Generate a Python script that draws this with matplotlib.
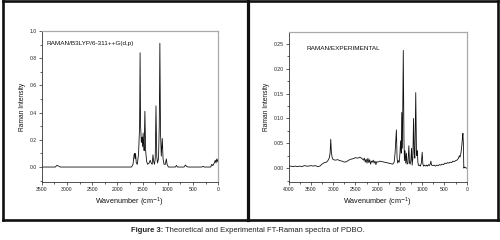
import matplotlib
matplotlib.use("Agg")
import matplotlib.pyplot as plt
from matplotlib.lines import Line2D
from matplotlib.ticker import MultipleLocator

plt.rcParams['font.family'] = ['Liberation Sans', 'DejaVu Sans']

# Theoretical spectrum vertices (wavenumber cm-1, Raman intensity)
theo_wn = [3500, 3230, 3200, 3170, 3130, 1720, 1690, 1670, 1660, 1650, 1640, 1625, 1605,
           1580, 1560, 1550, 1540, 1525, 1510, 1500, 1490, 1480, 1470, 1455, 1440, 1420,
           1400, 1370, 1350, 1330, 1310, 1295, 1280, 1265, 1250, 1235, 1220, 1205, 1185,
           1170, 1158, 1145, 1130, 1110, 1095, 1075, 1050, 1030, 1015, 990, 850, 830, 810,
           680, 650, 630, 600, 330, 300, 280, 150, 130, 110, 80, 60, 45, 30, 15, 0]
theo_int = [0.0, 0.0, 0.012, 0.008, 0.0, 0.0, 0.02, 0.09, 0.10, 0.06, 0.10, 0.03, 0.02,
            0.10, 0.30, 0.84, 0.30, 0.18, 0.22, 0.15, 0.25, 0.18, 0.12, 0.41, 0.12, 0.04,
            0.02, 0.03, 0.05, 0.03, 0.02, 0.09, 0.04, 0.02, 0.06, 0.45, 0.08, 0.03, 0.06,
            0.30, 0.91, 0.25, 0.08, 0.21, 0.06, 0.02, 0.02, 0.06, 0.02, 0.0, 0.0, 0.012, 0.0,
            0.0, 0.015, 0.005, 0.0, 0.0, 0.005, 0.0, 0.0, 0.02, 0.01, 0.03, 0.05, 0.03, 0.06, 0.04, 0.06]

# Experimental spectrum vertices
exp_wn = [4000, 3950, 3900, 3850, 3800, 3750, 3700, 3650, 3600, 3550, 3500, 3450, 3400, 3350,
          3300, 3250, 3200, 3150, 3120, 3090, 3070, 3055, 3040, 3020, 3000, 2950, 2900, 2850,
          2800, 2750, 2700, 2650, 2600, 2550, 2500, 2450, 2400, 2350, 2320, 2300, 2280, 2260,
          2240, 2220, 2200, 2180, 2160, 2140, 2120, 2100, 2080, 2060, 2040, 2020, 2000, 1950,
          1900, 1850, 1800, 1750, 1700, 1660, 1630, 1610, 1580, 1565, 1550, 1535, 1515, 1500,
          1485, 1470, 1460, 1445, 1425, 1410, 1400, 1385, 1370, 1355, 1340, 1320, 1300, 1285,
          1270, 1255, 1240, 1225, 1210, 1195, 1180, 1165, 1145, 1130, 1120, 1110, 1095, 1080,
          1060, 1040, 1020, 1000, 985, 970, 950, 920, 900, 880, 860, 840, 820, 805, 790, 760,
          730, 700, 670, 640, 610, 580, 550, 520, 490, 460, 430, 400, 370, 340, 310, 280, 250,
          220, 190, 165, 150, 130, 110, 95, 85, 75, 65, 50, 30, 10, 0]
exp_int = [0.003, 0.004, 0.003, 0.004, 0.003, 0.004, 0.003, 0.005, 0.004, 0.004, 0.005, 0.004, 0.005, 0.003,
           0.004, 0.008, 0.011, 0.012, 0.015, 0.020, 0.030, 0.058, 0.030, 0.020, 0.017, 0.016, 0.017, 0.015,
           0.014, 0.012, 0.013, 0.016, 0.018, 0.019, 0.021, 0.020, 0.022, 0.019, 0.016, 0.020, 0.012, 0.018,
           0.010, 0.020, 0.011, 0.017, 0.008, 0.014, 0.012, 0.016, 0.010, 0.014, 0.007, 0.013, 0.012, 0.014,
           0.013, 0.012, 0.011, 0.010, 0.009, 0.008, 0.012, 0.030, 0.077, 0.020, 0.010, 0.015, 0.012, 0.030,
           0.055, 0.030, 0.112, 0.040, 0.237, 0.060, 0.015, 0.035, 0.010, 0.030, 0.008, 0.010, 0.045, 0.010,
           0.008, 0.015, 0.040, 0.006, 0.020, 0.100, 0.030, 0.020, 0.152, 0.040, 0.025, 0.035, 0.010, 0.005,
           0.006, 0.004, 0.010, 0.032, 0.008, 0.004, 0.006, 0.004, 0.006, 0.004, 0.007, 0.005, 0.008, 0.014, 0.006, 0.005,
           0.006, 0.004, 0.006, 0.005, 0.007, 0.006, 0.008, 0.007, 0.010, 0.009, 0.011, 0.010, 0.012, 0.011, 0.014, 0.013, 0.015,
           0.016, 0.019, 0.025, 0.022, 0.030, 0.045, 0.062, 0.070, 0.050, 0.000, 0.002, 0.001, 0.000, 0.000]

theo_label = "RAMAN/B3LYP/6-311++G(d,p)"
exp_label = "RAMAN/EXPERIMENTAL"
xlabel = "Wavenumber (cm$^{-1}$)"
ylabel = "Raman Intensity"
caption_bold = "Figure 3:"
caption_rest = "Theoretical and Experimental FT-Raman spectra of PDBO."

W, H = 500, 240
fig = plt.figure(figsize=(5, 2.4), dpi=100)

def fx(px):
    return px / W

def fy(py):
    return 1 - py / H

# outer frame and divider
frame_kw = dict(color='#111111', lw=1.9, solid_capstyle='projecting')
fig.add_artist(Line2D([fx(2.5), fx(497.5)], [fy(1), fy(1)], transform=fig.transFigure, **frame_kw))
fig.add_artist(Line2D([fx(2.5), fx(497.5)], [fy(219.5), fy(219.5)], transform=fig.transFigure, **frame_kw))
fig.add_artist(Line2D([fx(2.5), fx(2.5)], [fy(1), fy(219.5)], transform=fig.transFigure, **frame_kw))
fig.add_artist(Line2D([fx(497.5), fx(497.5)], [fy(1), fy(219.5)], transform=fig.transFigure, **frame_kw))
fig.add_artist(Line2D([fx(247.5), fx(247.5)], [fy(1), fy(219.5)], transform=fig.transFigure, color='#111111', lw=2.3))

def style(ax):
    for s in ['left', 'bottom']:
        ax.spines[s].set_color('#333333')
        ax.spines[s].set_linewidth(0.6)
    for s in ['top', 'right']:
        ax.spines[s].set_color('#aaaaaa')
        ax.spines[s].set_linewidth(0.9)
    ax.tick_params(which='both', direction='out', width=0.5, colors='#222222',
                   labelsize=3.7, pad=1.5, top=False, right=False)
    ax.tick_params(which='major', length=2.0)
    ax.tick_params(which='minor', length=1.2)

ax1 = fig.add_axes([fx(41.7), fy(182), fx(218.3) - fx(41.7), fy(31) - fy(182)])
ax1.plot(theo_wn, theo_int, color='#111111', lw=0.6)
ax1.set_xlim(3500, 0)
ax1.set_ylim(-0.11, 1.0)
ax1.xaxis.set_major_locator(MultipleLocator(500))
ax1.xaxis.set_minor_locator(MultipleLocator(250))
ax1.yaxis.set_major_locator(MultipleLocator(0.2))
ax1.yaxis.set_minor_locator(MultipleLocator(0.1))
ax1.set_yticks([0.0, 0.2, 0.4, 0.6, 0.8, 1.0])
ax1.set_yticklabels(['0.0', '0.2', '0.4', '0.6', '0.8', '1.0'])
style(ax1)
ax1.set_xlabel(xlabel, fontsize=5.2, labelpad=3, color='#111111')
ax1.set_ylabel(ylabel, fontsize=4.8, labelpad=3, color='#111111')
ax1.text(0.03, 0.92, theo_label, transform=ax1.transAxes, fontsize=4.6, va='center', ha='left', color='#111111')

ax2 = fig.add_axes([fx(288.7), fy(182), fx(466.7) - fx(288.7), fy(32) - fy(182)])
ax2.plot(exp_wn, exp_int, color='#111111', lw=0.6)
ax2.set_xlim(4000, 0)
ax2.set_ylim(-0.028, 0.274)
ax2.xaxis.set_major_locator(MultipleLocator(500))
ax2.xaxis.set_minor_locator(MultipleLocator(250))
ax2.yaxis.set_major_locator(MultipleLocator(0.05))
ax2.yaxis.set_minor_locator(MultipleLocator(0.025))
ax2.set_yticks([0.0, 0.05, 0.10, 0.15, 0.20, 0.25])
ax2.set_yticklabels(['0.00', '0.05', '0.10', '0.15', '0.20', '0.25'])
style(ax2)
ax2.set_xlabel(xlabel, fontsize=5.2, labelpad=3, color='#111111')
ax2.set_ylabel(ylabel, fontsize=4.8, labelpad=3, color='#111111')
ax2.text(0.1, 0.89, exp_label, transform=ax2.transAxes, fontsize=4.6, va='center', ha='left', color='#111111')

fig.text(fx(163), fy(231), caption_bold, fontsize=5.5, fontweight='bold', ha='right', va='center', color='#222222')
fig.text(fx(165), fy(231), caption_rest, fontsize=5.5, ha='left', va='center', color='#222222')

fig.savefig('out.png', dpi=100)
